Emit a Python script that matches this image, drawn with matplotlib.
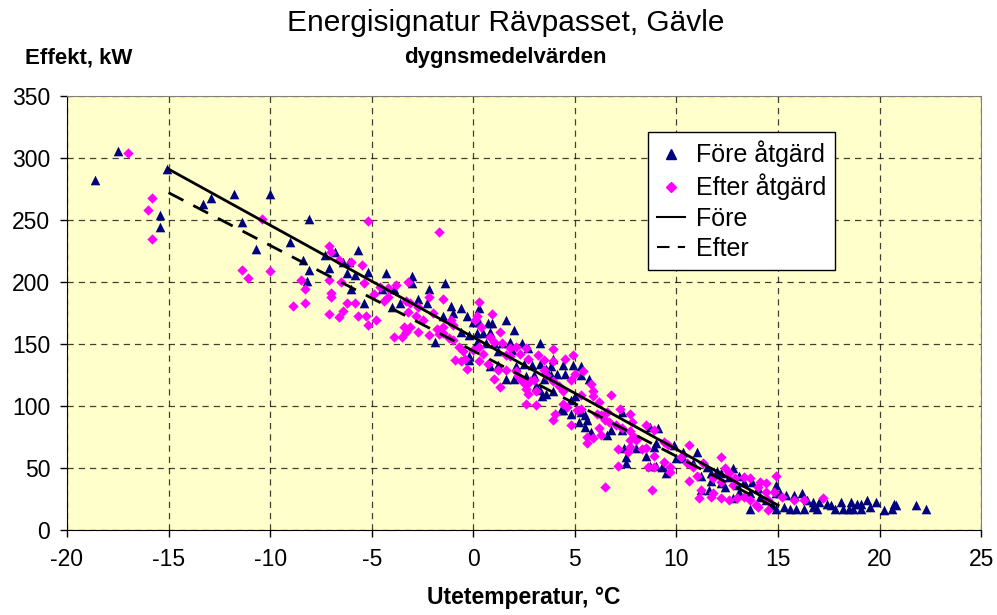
import matplotlib
matplotlib.use("Agg")
import matplotlib.pyplot as plt
from matplotlib.lines import Line2D

plt.rcParams['font.family'] = ['Liberation Sans', 'DejaVu Sans']
plt.rcParams['axes.unicode_minus'] = False

# daily means, (outdoor temp degC, power kW)
fore = [
    (-17.5, 306), (-18.6, 282), (-15.1, 291), (-15.4, 254), (-15.4, 244), (-13.3, 263),
    (-12.9, 268), (-11.8, 271), (-11.4, 248), (-10.0, 271), (-10.7, 227),
    (-8.1, 251), (-9.0, 232), (-8.4, 218), (-8.1, 210), (-8.2, 201), (-7.3, 222),
    (-6.8, 224), (-5.7, 226), (-7.1, 211), (-6.4, 216), (-6.1, 216), (-6.2, 207),
    (-5.8, 206), (-5.2, 208), (-6.0, 194), (-4.3, 207), (-3.0, 205), (-3.0, 199),
    (-2.2, 194), (-5.4, 183), (-4.5, 194), (-3.9, 194), (-4.0, 180), (-3.6, 183),
    (-2.7, 186), (-2.3, 183), (-1.9, 152), (-1.4, 199), (3.9, 138),
    (-1.1, 181), (-0.6, 179), (-1.5, 173), (-1.0, 175), (-0.3, 173), (0.3, 179),
    (0.0, 168), (0.3, 168), (0.7, 167), (0.9, 167), (1.6, 169), (2.0, 161),
    (-0.6, 160), (-0.2, 157), (0.2, 159), (0.5, 159), (0.8, 160), (0.2, 152),
    (0.6, 151), (1.0, 151), (1.4, 151), (1.8, 152), (2.4, 151), (2.7, 147),
    (3.3, 151), (1.2, 144), (1.9, 145), (-0.2, 140), (-0.2, 137), (0.8, 132),
    (1.2, 133), (2.1, 132), (2.5, 134), (2.9, 133), (3.3, 134), (3.6, 130),
    (3.8, 132), (4.1, 126), (2.6, 124), (3.0, 125), (1.6, 122), (2.0, 122),
    (3.1, 116), (3.3, 113),
    (4.4, 133), (4.9, 133), (5.3, 132), (4.5, 126), (5.3, 125), (5.7, 122),
    (3.5, 122), (3.8, 125), (3.6, 110), (3.9, 112), (3.4, 108), (4.8, 105),
    (5.0, 108), (4.4, 97), (4.8, 94), (5.3, 95), (5.5, 93), (5.2, 87),
    (5.5, 83), (5.8, 79), (5.6, 89), (4.3, 97), (6.6, 77), (6.8, 81),
    (7.3, 81), (7.3, 95), (7.4, 66), (7.5, 59), (8.0, 66), (7.5, 54),
    (8.7, 83), (9.1, 82), (9.0, 70), (8.9, 67), (8.5, 60), (8.7, 52),
    (9.0, 52), (9.3, 51), (9.5, 46), (9.9, 69), (10.3, 63), (11.0, 63),
    (10.0, 58), (10.3, 58), (10.8, 54), (11.5, 51), (11.2, 44), (11.7, 46),
    (12.2, 46), (12.6, 43), (11.7, 40), (12.2, 38), (12.4, 35), (13.0, 36),
    (11.6, 32), (11.2, 32), (13.1, 31), (13.6, 30), (13.3, 39), (13.7, 39),
    (14.0, 34), (14.1, 27), (13.6, 17), (14.9, 36), (14.9, 30), (14.7, 20),
    (14.9, 17), (14.4, 24), (12.8, 26), (12.0, 48), (12.8, 50), (13.1, 44),
    (15.1, 30), (15.4, 28), (15.8, 28), (16.2, 30), (15.3, 19), (15.6, 17),
    (15.9, 17), (16.3, 17), (16.7, 19), (16.4, 24), (16.7, 23), (17.0, 23),
    (16.9, 17), (17.4, 21), (17.6, 20), (18.1, 23), (17.8, 17), (18.2, 17),
    (18.6, 23), (18.9, 21), (19.1, 21), (19.4, 24), (19.8, 23), (18.5, 17),
    (18.7, 17), (19.1, 17), (19.5, 19), (20.2, 16), (20.7, 21), (20.8, 20),
    (20.6, 17), (21.8, 20), (22.3, 17),
]

efter = [
    (-17.0, 304), (-15.8, 268), (-16.0, 258), (-15.8, 235), (-10.4, 251), (-11.4, 210),
    (-11.1, 203), (-10.0, 209),
    (-5.2, 249), (-1.7, 240), (-7.1, 229), (-7.0, 224), (-6.6, 218), (-6.0, 216),
    (-5.5, 214), (-8.5, 202), (-8.3, 194), (-7.1, 202), (-6.5, 200), (-5.4, 199),
    (-8.9, 181), (-8.3, 183), (-7.0, 188), (-7.0, 191), (-7.1, 174), (-6.4, 177),
    (-6.2, 183), (-5.8, 183), (-6.6, 172), (-5.7, 173), (-5.3, 173), (-5.2, 165),
    (-4.8, 169), (-4.9, 190), (-4.6, 196), (-4.2, 195), (-3.8, 198), (-4.2, 188),
    (-4.4, 185), (-3.2, 200), (-3.3, 185), (-3.1, 183), (-3.2, 176), (-2.2, 188),
    (-2.7, 180), (-2.8, 173), (-3.4, 164), (-3.9, 156), (-3.5, 156), (-3.3, 160),
    (-3.1, 164), (-2.7, 160), (-2.2, 157), (-2.5, 169), (-2.0, 175), (-1.7, 158),
    (-1.8, 162), (-1.5, 186),
    (3.9, 146), (4.5, 138), (4.9, 141), (2.6, 102), (3.1, 101),
    (0.3, 184), (0.2, 173), (0.1, 169), (0.9, 174), (-1.5, 164), (-1.1, 169),
    (-1.0, 165), (-1.5, 159), (-1.2, 155), (-1.0, 153), (-0.7, 148), (-0.5, 144),
    (-0.9, 137), (-0.6, 136), (-0.4, 138), (-0.3, 130), (0.0, 145), (0.3, 148),
    (0.5, 142), (0.3, 136), (0.7, 134), (0.4, 164), (0.8, 156), (1.3, 160),
    (1.0, 152), (1.4, 151), (1.8, 147), (2.1, 148), (1.6, 141), (1.8, 140),
    (2.3, 142), (2.6, 147), (2.7, 138), (3.2, 141), (3.5, 137), (1.0, 122),
    (1.3, 115), (1.2, 129), (1.6, 129), (2.1, 128), (2.2, 124), (2.4, 120),
    (2.6, 117), (2.8, 120), (3.0, 121), (2.6, 114), (2.7, 110), (3.1, 112),
    (3.9, 136), (3.5, 129), (3.6, 125), (3.9, 120), (4.2, 116), (4.4, 112),
    (4.8, 121), (5.0, 126), (5.4, 128), (5.8, 118), (5.9, 112), (5.9, 108),
    (6.2, 103), (5.3, 109), (6.8, 109), (4.4, 102), (4.6, 99), (4.0, 94),
    (3.9, 89), (5.1, 97), (5.3, 98), (4.8, 85), (6.1, 94), (6.3, 93),
    (6.6, 95), (7.2, 98), (7.7, 94), (7.8, 87), (6.5, 89), (6.7, 87),
    (7.0, 85), (6.2, 82), (6.3, 77), (5.9, 74), (5.6, 70), (5.6, 75),
    (7.3, 82), (7.7, 80), (7.9, 75), (7.7, 73), (8.0, 73), (7.1, 65),
    (7.7, 67), (7.6, 63), (7.1, 52), (6.5, 35),
    (8.5, 85), (8.9, 81), (9.4, 71), (9.6, 69), (8.3, 65), (8.5, 66),
    (8.9, 60), (8.6, 51), (8.9, 51), (9.4, 55), (9.7, 51), (9.7, 47),
    (8.8, 32), (10.6, 69), (10.2, 59), (10.5, 54), (10.8, 51), (10.6, 40),
    (11.1, 26), (11.3, 54), (12.2, 59), (12.4, 50), (11.2, 32), (11.7, 27),
    (12.2, 26), (11.8, 30), (11.8, 42), (12.2, 39), (12.6, 46), (12.9, 42),
    (12.6, 24), (13.0, 26), (13.3, 43), (13.6, 42), (14.1, 39), (14.4, 38),
    (13.3, 27), (13.6, 24), (13.9, 20), (14.0, 19), (14.4, 31), (14.5, 24),
    (14.5, 16), (14.9, 44), (14.8, 31), (15.2, 27), (15.8, 24), (11.0, 44),
    (12.8, 36), (14.0, 35), (16.3, 24), (17.2, 26),
]

# signature lines (endpoints)
fore_line_x = [-15, 15]
fore_line_y = [291, 20]
efter_line_x = [-15, 15]
efter_line_y = [272, 17]

fig = plt.figure(figsize=(9.97, 6.15), dpi=100)
ax = fig.add_axes([0.0672, 0.138, 0.917, 0.706])
ax.set_facecolor('#FFFFCC')

fx, fy = zip(*fore)
ex, ey = zip(*efter)
ax.scatter(fx, fy, marker='^', s=48, color='#000080', linewidths=0, zorder=3)
ax.scatter(ex, ey, marker='D', s=28, color='#FF00FF', linewidths=0, zorder=3)
ax.plot(fore_line_x, fore_line_y, color='black', lw=2, zorder=4)
ax.plot(efter_line_x, efter_line_y, color='black', lw=2, dashes=(6, 4), zorder=4)

ax.set_xlim(-20, 25)
ax.set_ylim(0, 350)
ax.set_xticks(range(-20, 26, 5))
ax.set_yticks(range(0, 351, 50))
ax.grid(True, color='black', lw=0.9, dashes=(5, 4), alpha=0.75)
ax.set_axisbelow(True)
ax.tick_params(labelsize=16.5, length=5, width=1, direction='out', colors='black')
ax.tick_params(axis='x', pad=8)
ax.tick_params(axis='y', pad=7)
for s in ('top', 'right'):
    ax.spines[s].set_color('#808080')
for s in ('left', 'bottom'):
    ax.spines[s].set_color('black')

ax.set_xlabel('Utetemperatur, °C', fontsize=16.5, fontweight='bold', labelpad=11)

fig.text(0.507, 0.963, 'Energisignatur Rävpasset, Gävle', ha='center', va='center', fontsize=21.5)
fig.text(0.507, 0.907, 'dygnsmedelvärden', ha='center', va='center', fontsize=16, fontweight='bold')
fig.text(0.025, 0.905, 'Effekt, kW', ha='left', va='center', fontsize=16, fontweight='bold')

handles = [
    Line2D([], [], ls='none', marker='^', ms=7, color='#000080'),
    Line2D([], [], ls='none', marker='D', ms=5.5, color='#FF00FF'),
    Line2D([], [], color='black', lw=1.5),
    Line2D([], [], color='black', lw=1.5, dashes=(6, 4)),
]
leg = ax.legend(handles, ['Före åtgärd', 'Efter åtgärd', 'Före', 'Efter'],
                loc='upper left', bbox_to_anchor=(0.636, 0.917), fontsize=18,
                frameon=True, fancybox=False, edgecolor='black', framealpha=1,
                handlelength=1.1, handletextpad=0.45, labelspacing=0.25,
                borderpad=0.35, borderaxespad=0)
leg.get_frame().set_linewidth(1)

fig.savefig('out.png', dpi=100)
